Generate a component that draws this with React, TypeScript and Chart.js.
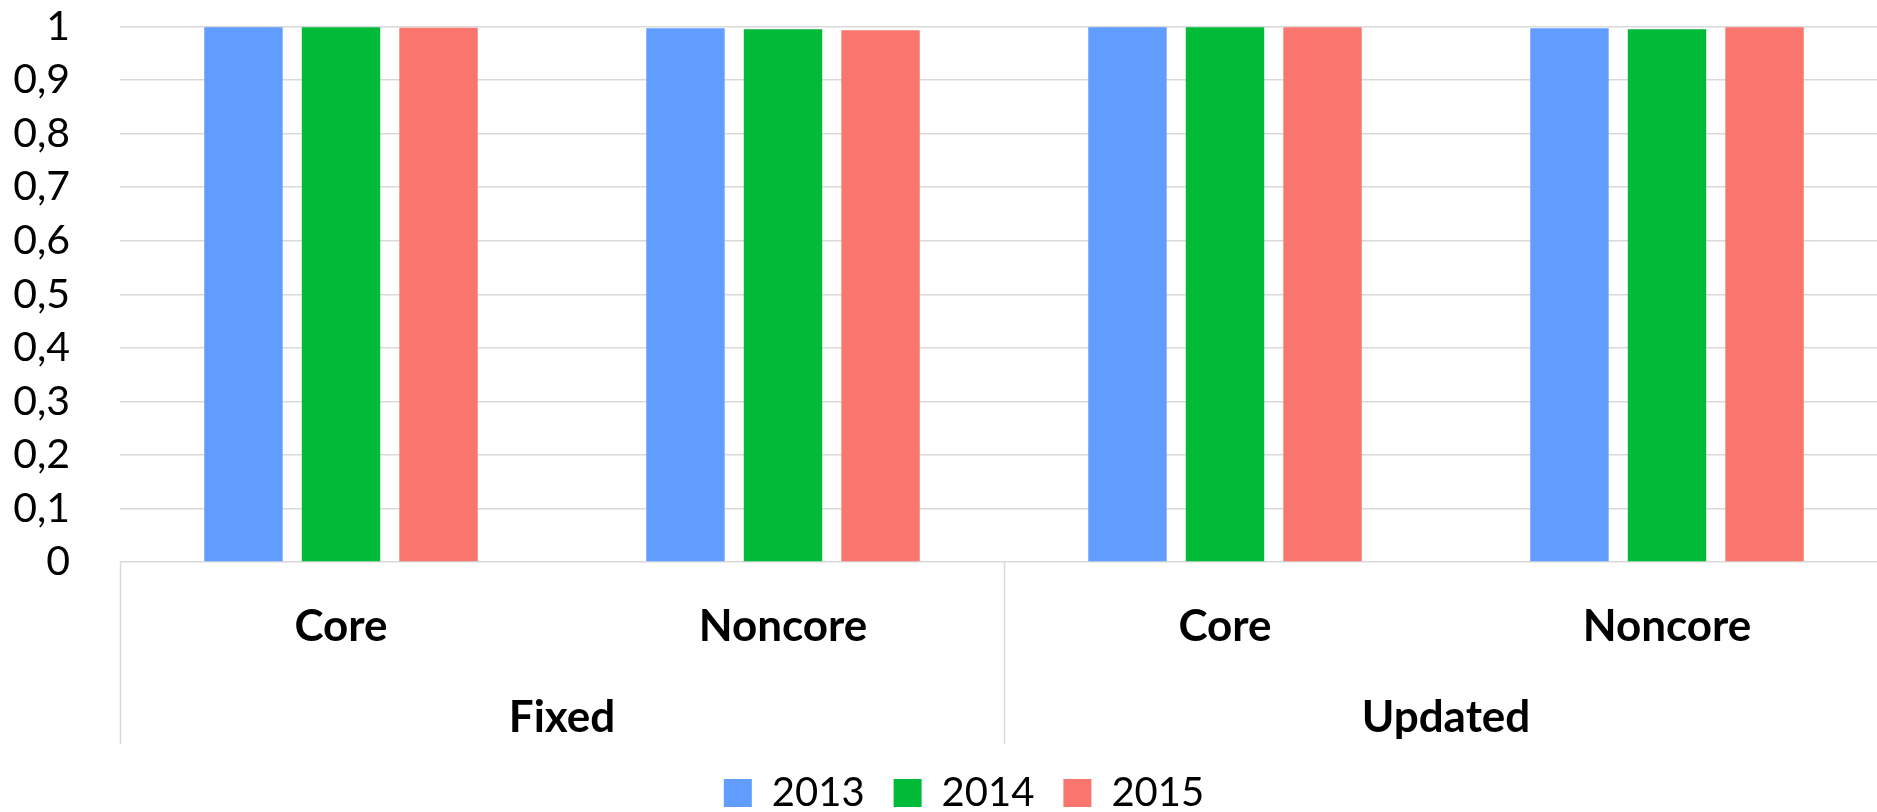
import React, { useEffect, useRef } from "react";
import { Chart, registerables } from "chart.js";

Chart.register(...registerables);

// Inner category labels and the outer grouping they belong to
const categories = ["Core", "Noncore", "Core", "Noncore"];
const groups = ["Fixed", "Updated"];

// Yearly series, one value per category
const years = ["2013", "2014", "2015"];
const values2013 = [0.999, 0.997, 0.999, 0.997];
const values2014 = [0.999, 0.995, 0.999, 0.995];
const values2015 = [0.998, 0.993, 0.999, 0.999];

const yearColors = ["#619CFF", "#00BA38", "#F8766D"];

const FONT = "Lato, 'Open Sans', sans-serif";
const GRID = "#d9d9d9";

// Vertical dividers framing the two-level category axis
const groupDividers = {
  id: "groupDividers",
  afterDraw(chart: any) {
    const x = chart.scales.x;
    const x2 = chart.scales.x2;
    const ctx = chart.ctx;
    const perGroup = categories.length / groups.length;
    ctx.save();
    ctx.strokeStyle = GRID;
    ctx.lineWidth = 1.5;
    for (let g = 0; g <= groups.length; g++) {
      const px = Math.round(x.getPixelForValue(g * perGroup - 0.5)) + 0.5;
      ctx.beginPath();
      ctx.moveTo(px, chart.chartArea.bottom);
      ctx.lineTo(px, x2.bottom);
      ctx.stroke();
    }
    ctx.restore();
  },
};

// Centre the legend under the full plot width rather than the padded box
const legendShift = {
  id: "legendShift",
  afterLayout(chart: any) {
    const lg = chart.legend;
    if (!lg) return;
    const shift = 20;
    lg.left += shift;
    lg.right += shift;
  },
};

export default function App() {
  const canvasRef = useRef<HTMLCanvasElement | null>(null);

  useEffect(() => {
    document.body.style.margin = "0";
    const canvas = canvasRef.current;
    if (!canvas) return;
    const series = [values2013, values2014, values2015];
    const chart = new Chart(canvas, {
      type: "bar",
      data: {
        labels: categories,
        datasets: years.map((year, i) => ({
          label: year,
          data: series[i],
          backgroundColor: yearColors[i],
          borderWidth: 0,
          categoryPercentage: 0.662,
          barPercentage: 0.804,
        })),
      },
      options: {
        responsive: false,
        animation: false,
        devicePixelRatio: 1,
        layout: { padding: { left: 0, right: 40, top: 25, bottom: 0 } },
        plugins: {
          tooltip: { enabled: false },
          legend: {
            position: "bottom",
            labels: {
              color: "#000",
              font: { family: FONT, size: 40 },
              boxWidth: 28,
              boxHeight: 28,
              padding: 29,
            },
          },
        },
        scales: {
          x: {
            type: "category",
            position: "bottom",
            grid: { display: false, drawTicks: false },
            border: { display: false },
            ticks: {
              color: "#000",
              font: { family: FONT, size: 44, weight: "bold" },
              padding: 38,
              maxRotation: 0,
              autoSkip: false,
            },
            afterFit(scale: any) {
              scale.height = 110;
            },
          },
          x2: {
            type: "category",
            position: "bottom",
            labels: groups,
            offset: true,
            grid: { display: false, drawTicks: false },
            border: { display: false },
            ticks: {
              color: "#000",
              font: { family: FONT, size: 44, weight: "bold" },
              padding: 19,
              maxRotation: 0,
              autoSkip: false,
            },
            afterFit(scale: any) {
              scale.height = 72;
            },
          },
          y: {
            min: 0,
            max: 1,
            grid: {
              color: GRID,
              lineWidth: 1.5,
              drawTicks: true,
              tickLength: 48,
              tickColor: "rgba(0,0,0,0)",
            },
            border: { display: false },
            ticks: {
              stepSize: 0.1,
              color: "#000",
              font: { family: FONT, size: 41 },
              padding: 2,
              callback: (v: any) => String(Math.round(Number(v) * 10) / 10).replace(".", ","),
            },
            afterFit(scale: any) {
              scale.width = 120;
            },
          },
        },
      },
      plugins: [groupDividers, legendShift],
    });
    return () => chart.destroy();
  }, []);

  return (
    <div style={{ width: 1877, height: 812, overflow: "hidden", position: "relative", background: "#fff" }}>
      <canvas ref={canvasRef} width={1928} height={823} style={{ display: "block" }} />
    </div>
  );
}
